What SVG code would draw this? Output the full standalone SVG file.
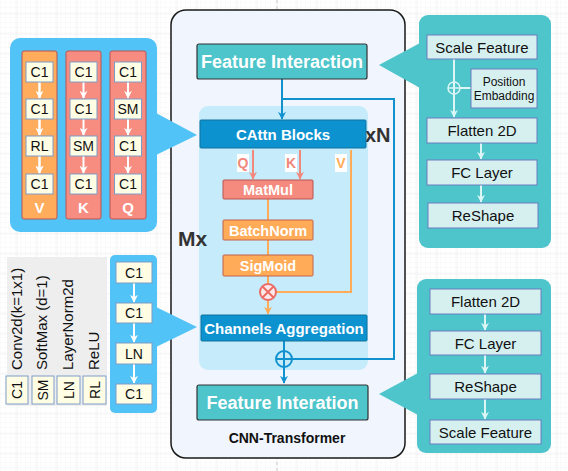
<svg xmlns="http://www.w3.org/2000/svg" width="568" height="471" viewBox="0 0 568 471">
<defs>
<pattern id="minor" width="5" height="5" patternUnits="userSpaceOnUse" x="1" y="3">
<path d="M5,0 V5 M0,5 H5" fill="none" stroke="#f6f6f6" stroke-width="1"/>
</pattern>
<pattern id="major" width="20" height="20" patternUnits="userSpaceOnUse" x="16.5" y="13.5">
<path d="M0,0 V20 M0,0 H20" fill="none" stroke="#e6e6e6" stroke-width="1"/>
</pattern>
<marker id="aw" viewBox="0 0 10 10" refX="9" refY="5" markerWidth="4" markerHeight="4" orient="auto"><path d="M0,0 L10,5 L0,10 L3,5 z" fill="#ffffff"/></marker>
<marker id="at" viewBox="0 0 10 10" refX="9" refY="5" markerWidth="4" markerHeight="4" orient="auto"><path d="M0,0 L10,5 L0,10 L3,5 z" fill="#dcf5f5"/></marker>
<marker id="ab" viewBox="0 0 10 10" refX="9" refY="5" markerWidth="4" markerHeight="4" orient="auto"><path d="M0,0 L10,5 L0,10 L3,5 z" fill="#1192cf"/></marker>
<marker id="as" viewBox="0 0 10 10" refX="9" refY="5" markerWidth="4" markerHeight="4" orient="auto"><path d="M0,0 L10,5 L0,10 L3,5 z" fill="#f2877b"/></marker>
<marker id="ao" viewBox="0 0 10 10" refX="9" refY="5" markerWidth="4" markerHeight="4" orient="auto"><path d="M0,0 L10,5 L0,10 L3,5 z" fill="#ffab57"/></marker>
</defs>
<style>
text{font-family:"Liberation Sans",Arial,Helvetica,sans-serif}
.sb{fill:#fffde3;stroke:#7c9cc8;stroke-width:1}
.st{font-size:14px;fill:#111;text-anchor:middle}
.rb{fill:#d6f0f0;stroke:#6c7ebf;stroke-width:1}
.rt{font-size:15px;fill:#111;text-anchor:middle}
.wl{stroke:#ffffff;stroke-width:2;fill:none;marker-end:url(#aw)}
.tl{stroke:#dcf5f5;stroke-width:2;fill:none;marker-end:url(#at)}
.bl{stroke:#1192cf;stroke-width:2;fill:none}
.ol{stroke:#ffab57;stroke-width:2;fill:none}
.wb{font-weight:bold;fill:#fff;text-anchor:middle}
</style>
<rect width="568" height="471" fill="#ffffff"/>
<rect width="568" height="471" fill="url(#minor)"/>
<rect width="568" height="471" fill="url(#major)"/>
<line x1="277" y1="0" x2="277" y2="471" stroke="#cccccc" stroke-width="1" stroke-dasharray="3,3"/>

<g id="container">
<rect x="171" y="10" width="234" height="448" rx="15" fill="#f0f5fe" stroke="#1a1a1a" stroke-width="1.5"/>
<rect x="199" y="106" width="169" height="264" rx="9" fill="#c6ecfb"/>
<text x="287" y="443" font-size="14" font-weight="bold" fill="#111" text-anchor="middle">CNN-Transformer</text>
<text x="365" y="142" font-size="20" font-weight="bold" fill="#333">xN</text>
<text x="178" y="246" font-size="21" font-weight="bold" fill="#333">Mx</text>
</g>

<g id="connectors">
<path class="bl" d="M282,79 V119" marker-end="url(#ab)"/>
<path class="bl" d="M282,99 H394 V359 H292"/>
<path class="bl" d="M284,341 V351"/>
<path class="bl" d="M284,367 V383" marker-end="url(#ab)"/>
<path d="M253,150 V179" stroke="#f2877b" stroke-width="2" marker-end="url(#as)"/>
<path d="M300,150 V179" stroke="#f2877b" stroke-width="2" marker-end="url(#as)"/>
<path class="ol" d="M351,150 V292 H276"/>
<path class="ol" d="M268,199 V220 M268,240 V255 M268,276 V284"/>
<path class="ol" d="M268,300 V314" marker-end="url(#ao)"/>
</g>

<g id="feature-interaction">
<rect x="197" y="44" width="170" height="35" rx="2" fill="#4dc5ca" stroke="#333" stroke-width="1.2"/>
<text class="wb" x="282" y="68" font-size="18">Feature Interaction</text>
</g>
<g id="cattn-blocks">
<rect x="200" y="120" width="166" height="28" rx="1" fill="#0d92d0" stroke="#10739e" stroke-width="1"/>
<text class="wb" x="283" y="139.5" font-size="15">CAttn Blocks</text>
</g>
<g id="qkv-labels">
<rect x="237" y="154" width="12" height="18" fill="#ffffff"/>
<text x="243" y="168" font-size="14" font-weight="bold" fill="#f2877b" text-anchor="middle">Q</text>
<rect x="285" y="154" width="12" height="18" fill="#ffffff"/>
<text x="291" y="168" font-size="14" font-weight="bold" fill="#f2877b" text-anchor="middle">K</text>
<rect x="335" y="154" width="12" height="18" fill="#ffffff"/>
<text x="341" y="168" font-size="14" font-weight="bold" fill="#ffab57" text-anchor="middle">V</text>
</g>
<g id="matmul">
<rect x="223" y="180" width="90" height="19" rx="1" fill="#f58a7e" stroke="#b85450" stroke-width="1"/>
<text class="wb" x="268" y="195" font-size="14.5">MatMul</text>
</g>
<g id="batchnorm">
<rect x="223" y="220" width="90" height="20" rx="1" fill="#ffab57" stroke="#c0624e" stroke-width="1"/>
<text class="wb" x="268" y="235.5" font-size="14.5">BatchNorm</text>
</g>
<g id="sigmoid">
<rect x="223" y="255" width="90" height="21" rx="1" fill="#ffab57" stroke="#c0624e" stroke-width="1"/>
<text class="wb" x="268" y="271" font-size="14.5">SigMoid</text>
</g>
<g id="multiply">
<circle cx="268" cy="292" r="8" fill="#fbe9ea" stroke="#ea6b66" stroke-width="2"/>
<path d="M262.5,286.5 L273.5,297.5 M273.5,286.5 L262.5,297.5" stroke="#ea6b66" stroke-width="2"/>
</g>
<g id="channels-aggregation">
<rect x="201" y="315" width="166" height="26" rx="1" fill="#0d92d0" stroke="#10739e" stroke-width="1"/>
<text class="wb" x="284" y="333.5" font-size="15">Channels Aggregation</text>
</g>
<g id="add">
<circle cx="284" cy="359" r="8" fill="none" stroke="#1192cf" stroke-width="2"/>
<path d="M276,359 H292 M284,351 V367" stroke="#1192cf" stroke-width="2"/>
</g>
<g id="feature-interation">
<rect x="197" y="385" width="171" height="35" rx="2" fill="#4dc5ca" stroke="#333" stroke-width="1.2"/>
<text class="wb" x="282.5" y="409" font-size="18">Feature Interation</text>
</g>

<g id="qkv-panel">
<rect x="10" y="38" width="147" height="194" rx="10" fill="#52c3f7"/>
<polygon points="156,113 197,135 156,155" fill="#52c3f7"/>
<rect x="22" y="51" width="35" height="168" rx="2" fill="#ffad5c" stroke="#b85450" stroke-width="1"/>
<rect x="66" y="51" width="35" height="168" rx="2" fill="#f78c80" stroke="#b85450" stroke-width="1"/>
<rect x="110" y="51" width="36" height="168" rx="2" fill="#f78c80" stroke="#b85450" stroke-width="1"/>
<path class="wl" d="M39.5,82 V98 M39.5,119 V135 M39.5,156 V173"/>
<path class="wl" d="M39.5,82 V98"/><path class="wl" d="M39.5,119 V135"/><path class="wl" d="M39.5,156 V173"/>
<path class="wl" d="M83.5,82 V98"/><path class="wl" d="M83.5,119 V135"/><path class="wl" d="M83.5,156 V173"/>
<path class="wl" d="M128,82 V98"/><path class="wl" d="M128,119 V135"/><path class="wl" d="M128,156 V173"/>
<rect class="sb" x="26" y="62" width="27" height="20"/><text class="st" x="39.5" y="77">C1</text>
<rect class="sb" x="26" y="99" width="27" height="20"/><text class="st" x="39.5" y="114">C1</text>
<rect class="sb" x="26" y="136" width="27" height="20"/><text class="st" x="39.5" y="151">RL</text>
<rect class="sb" x="26" y="174" width="27" height="20"/><text class="st" x="39.5" y="189">C1</text>
<text class="wb" x="39.5" y="213" font-size="15">V</text>
<rect class="sb" x="70" y="62" width="27" height="20"/><text class="st" x="83.5" y="77">C1</text>
<rect class="sb" x="70" y="99" width="27" height="20"/><text class="st" x="83.5" y="114">C1</text>
<rect class="sb" x="70" y="136" width="27" height="20"/><text class="st" x="83.5" y="151">SM</text>
<rect class="sb" x="70" y="174" width="27" height="20"/><text class="st" x="83.5" y="189">C1</text>
<text class="wb" x="83.5" y="213" font-size="15">K</text>
<rect class="sb" x="114.5" y="62" width="27" height="20"/><text class="st" x="128" y="77">C1</text>
<rect class="sb" x="114.5" y="99" width="27" height="20"/><text class="st" x="128" y="114">SM</text>
<rect class="sb" x="114.5" y="136" width="27" height="20"/><text class="st" x="128" y="151">C1</text>
<rect class="sb" x="114.5" y="174" width="27" height="20"/><text class="st" x="128" y="189">C1</text>
<text class="wb" x="128" y="213" font-size="15">Q</text>
</g>

<g id="legend">
<rect x="7" y="257" width="100" height="149" fill="#eeeeee"/>
<text transform="translate(22,370) rotate(-90)" font-size="15" fill="#111">Conv2d(k=1x1)</text>
<text transform="translate(47,370) rotate(-90)" font-size="15" fill="#111">SoftMax (d=1)</text>
<text transform="translate(73,370) rotate(-90)" font-size="15" fill="#111">LayerNorm2d</text>
<text transform="translate(99,370) rotate(-90)" font-size="15" fill="#111">ReLU</text>
<rect class="sb" x="6" y="376" width="22" height="28"/><text class="st" transform="translate(22,390) rotate(-90)">C1</text>
<rect class="sb" x="32" y="376" width="22" height="28"/><text class="st" transform="translate(48,390) rotate(-90)">SM</text>
<rect class="sb" x="57" y="376" width="23" height="28"/><text class="st" transform="translate(73.5,390) rotate(-90)">LN</text>
<rect class="sb" x="83" y="376" width="23" height="28"/><text class="st" transform="translate(99.5,390) rotate(-90)">RL</text>
</g>

<g id="aggregation-panel">
<rect x="110" y="255" width="47" height="158" rx="5" fill="#52c3f7"/>
<polygon points="156,307 197,327 156,347" fill="#52c3f7"/>
<path class="wl" d="M134,283 V302"/><path class="wl" d="M134,323 V342"/><path class="wl" d="M134,364 V383"/>
<rect class="sb" x="116" y="262" width="36" height="21"/><text class="st" x="134" y="277.5">C1</text>
<rect class="sb" x="116" y="303" width="36" height="20"/><text class="st" x="134" y="318">C1</text>
<rect class="sb" x="116" y="343" width="36" height="21"/><text class="st" x="134" y="358.5">LN</text>
<rect class="sb" x="116" y="384" width="36" height="20"/><text class="st" x="134" y="399">C1</text>
</g>

<g id="interaction-panel">
<rect x="419" y="15" width="132" height="233" rx="9" fill="#4dc5ca"/>
<polygon points="420,43 379,65 420,88" fill="#4dc5ca"/>
<path class="tl" d="M454,59 V117"/>
<path d="M460,88 H471" stroke="#dcf5f5" stroke-width="2"/>
<circle cx="454" cy="88" r="6" fill="none" stroke="#dcf5f5" stroke-width="1.5"/>
<path d="M448,88 H460 M454,82 V94" stroke="#dcf5f5" stroke-width="1.5"/>
<path class="tl" d="M481,143 V159"/><path class="tl" d="M481,185 V202"/>
<rect class="rb" x="427" y="35" width="110" height="24"/><text class="rt" x="482" y="52.5">Scale Feature</text>
<rect class="rb" x="471" y="69" width="66" height="39"/>
<text x="504" y="86" font-size="12" fill="#111" text-anchor="middle">Position</text>
<text x="504" y="100" font-size="12" fill="#111" text-anchor="middle">Embadding</text>
<rect class="rb" x="427" y="118" width="110" height="25"/><text class="rt" x="482" y="136">Flatten 2D</text>
<rect class="rb" x="427" y="160" width="110" height="25"/><text class="rt" x="482" y="178">FC Layer</text>
<rect class="rb" x="428" y="203" width="110" height="25"/><text class="rt" x="483" y="221">ReShape</text>
</g>

<g id="interation-panel">
<rect x="417" y="279" width="134" height="174" rx="9" fill="#4dc5ca"/>
<polygon points="418,373 379,394 418,415" fill="#4dc5ca"/>
<path class="tl" d="M485,314 V330"/><path class="tl" d="M485,355 V373"/><path class="tl" d="M485,399 V419"/>
<rect class="rb" x="430" y="289" width="111" height="25"/><text class="rt" x="485.5" y="307">Flatten 2D</text>
<rect class="rb" x="430" y="331" width="111" height="24"/><text class="rt" x="485.5" y="348.5">FC Layer</text>
<rect class="rb" x="430" y="374" width="111" height="25"/><text class="rt" x="485.5" y="392">ReShape</text>
<rect class="rb" x="430" y="420" width="111" height="24"/><text class="rt" x="485.5" y="437.5">Scale Feature</text>
</g>
</svg>
